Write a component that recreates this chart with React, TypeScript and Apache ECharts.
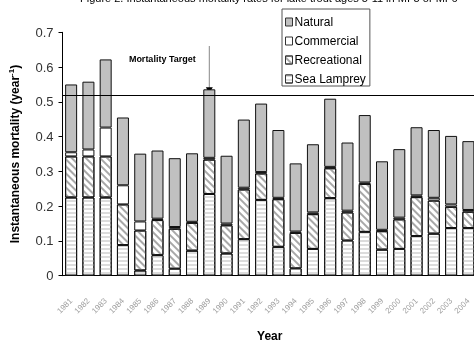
import React, { useEffect, useRef } from "react";
import * as echarts from "echarts";

const years = [
  "1981", "1982", "1983", "1984", "1985", "1986", "1987", "1988", "1989", "1990",
  "1991", "1992", "1993", "1994", "1995", "1996", "1997", "1998", "1999", "2000",
  "2001", "2002", "2003", "2004",
];
const seaLamprey = [0.225, 0.225, 0.225, 0.088, 0.015, 0.059, 0.02, 0.072, 0.235, 0.064, 0.105, 0.218, 0.083, 0.021, 0.077, 0.223, 0.101, 0.126, 0.075, 0.077, 0.114, 0.121, 0.137, 0.137];
const recreational = [0.118, 0.118, 0.118, 0.117, 0.115, 0.101, 0.115, 0.08, 0.099, 0.081, 0.143, 0.076, 0.137, 0.102, 0.1, 0.086, 0.081, 0.138, 0.053, 0.085, 0.112, 0.095, 0.061, 0.047];
const commercial = [0.012, 0.02, 0.083, 0.055, 0.026, 0.004, 0.005, 0.003, 0.005, 0.005, 0.005, 0.004, 0.004, 0.004, 0.005, 0.004, 0.005, 0.004, 0.004, 0.005, 0.005, 0.008, 0.007, 0.005];
const natural = [0.195, 0.195, 0.196, 0.195, 0.195, 0.196, 0.198, 0.197, 0.197, 0.195, 0.196, 0.197, 0.195, 0.196, 0.196, 0.196, 0.196, 0.194, 0.197, 0.197, 0.196, 0.195, 0.197, 0.198];
const legendOrder = ["Natural", "Commercial", "Recreational", "Sea Lamprey"];
const mortalityTarget = 0.517;
const targetYearIndex = 8;
const titleText = "Figure 2. Instantaneous mortality rates for lake trout ages 5-11 in MI-5 or MI-6";

export default function App() {
  const ref = useRef<HTMLDivElement>(null);
  useEffect(() => {
    if (!ref.current) return;
    const chart = echarts.init(ref.current, null, { renderer: "svg" });
    const font = "Arial, 'Liberation Sans', sans-serif";
    const border = { borderColor: "#111", borderWidth: 1 };
    chart.setOption({
      animation: false,
      textStyle: { fontFamily: font },
      grid: { left: 62.5, right: -3, top: 32.3, bottom: 67.3, containLabel: false, outerBoundsMode: "none" },
      legend: {
        data: legendOrder,
        orient: "vertical",
        left: 282,
        top: 9,
        borderColor: "#555",
        borderWidth: 1,
        padding: [7, 4, 1, 3],
        itemGap: 7,
        itemWidth: 7,
        itemHeight: 8,
        icon: "rect",
        itemStyle: { borderColor: "#333", borderWidth: 1 },
        textStyle: { fontSize: 12, color: "#000", fontFamily: font, padding: [0, 0, 0, -3] },
      },
      xAxis: {
        type: "category",
        data: years,
        name: "Year",
        nameLocation: "middle",
        nameGap: 54,
        nameTextStyle: { fontSize: 12, lineHeight: 12, fontWeight: "bold", color: "#000" },
        axisLine: { lineStyle: { color: "#000" } },
        axisTick: { length: 4, lineStyle: { color: "#000" } },
        axisLabel: { rotate: 45, fontSize: 8, color: "#a0a0a0", margin: 24, interval: 0 },
      },
      yAxis: {
        type: "value",
        min: 0,
        max: 0.7,
        interval: 0.1,
        name: "{a|Instantaneous mortality (year}{s|-1}{a|)}",
        nameLocation: "middle",
        nameGap: 41,
        nameTextStyle: {
          rich: {
            a: { fontSize: 12, fontWeight: "bold", color: "#000", fontFamily: font },
            s: { fontSize: 8, fontWeight: "bold", color: "#000", fontFamily: font, verticalAlign: "top", padding: [0, 0, 6, 0] },
          },
        },
        splitLine: { show: false },
        axisLine: { show: true, lineStyle: { color: "#000" } },
        axisTick: { show: true, length: 4, lineStyle: { color: "#000" } },
        axisLabel: { fontSize: 13, color: "#333", margin: 9 },
      },
      series: [
        {
          name: "Sea Lamprey",
          type: "bar",
          stack: "m",
          barWidth: 12,
          data: seaLamprey,
          itemStyle: {
            color: "#fff",
            ...border,
            decal: { symbol: "rect", symbolSize: 1, dashArrayX: [1, 0], dashArrayY: [2, 1.5], rotation: 0, color: "#dcdcdc" },
          },
          markLine: {
            silent: true,
            symbol: "none",
            label: { show: false },
            lineStyle: { color: "#000", width: 1, type: "solid" },
            data: [{ yAxis: mortalityTarget }],
          },
        },
        {
          name: "Recreational",
          type: "bar",
          stack: "m",
          data: recreational,
          itemStyle: {
            color: "#fff",
            ...border,
            decal: { symbol: "rect", symbolSize: 1, dashArrayX: [1, 0], dashArrayY: [1.2, 3], rotation: Math.PI / 4, color: "#a8a8a8" },
          },
        },
        {
          name: "Commercial",
          type: "bar",
          stack: "m",
          data: commercial,
          itemStyle: { color: "#fff", ...border },
        },
        {
          name: "Natural",
          type: "bar",
          stack: "m",
          data: natural,
          itemStyle: { color: "#c0c0c0", ...border },
        },
      ],
    });
    const total = seaLamprey[targetYearIndex] + recreational[targetYearIndex] + commercial[targetYearIndex] + natural[targetYearIndex];
    const [px, py] = chart.convertToPixel({ gridIndex: 0 }, [targetYearIndex, total]) as number[];
    chart.setOption({
      graphic: [
        {
          type: "text",
          left: 80,
          top: -8,
          style: { text: titleText, fontSize: 11, fontFamily: font, fill: "#000" },
        },
        {
          type: "line",
          shape: { x1: px, y1: 46, x2: px, y2: py },
          style: { stroke: "#888", lineWidth: 1 },
        },
        {
          type: "polygon",
          shape: { points: [[px - 3.5, py - 2], [px + 3.5, py - 2], [px, py + 4]] },
          style: { fill: "#000" },
        },
        {
          type: "text",
          x: px - 47,
          y: 59,
          style: { text: "Mortality Target", fontSize: 9, fontWeight: "bold", fontFamily: font, fill: "#000", align: "center", verticalAlign: "middle" },
        },
      ],
    });
    return () => chart.dispose();
  }, []);
  return <div ref={ref} style={{ position: "fixed", left: 0, top: 0, width: 474, height: 343 }} />;
}
